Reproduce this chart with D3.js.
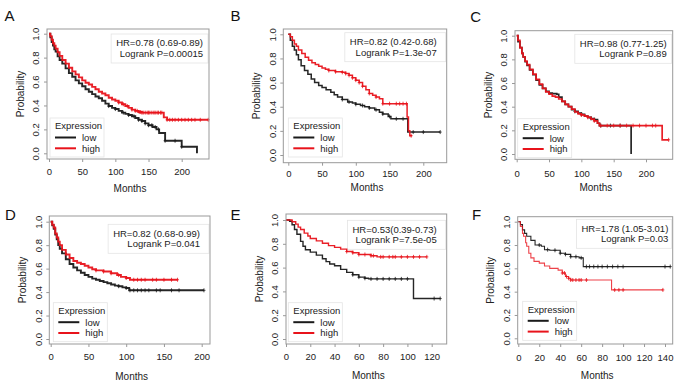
<!DOCTYPE html>
<html lang="en">
<head>
<meta charset="UTF-8" />
<title>KM plots</title>
<style>
  body { margin: 0; background: #fff; }
  text { font-family: "Liberation Sans", Arial, sans-serif; fill: #222; }
</style>
</head>
<body>
<script src="https://d3js.org/d3.v7.min.js"></script>
<svg id="km" width="680" height="387"></svg>
<script>
// survival curves: [months, probability] knots
const aLow = [[0,1],[2,0.97],[4,0.93],[6,0.9],[8,0.87],[10,0.85],[13,0.81],[16,0.78],[20,0.75],[25,0.71],[30,0.67],[35,0.64],[40,0.61],[45,0.585],[50,0.56],[55,0.535],[60,0.515],[65,0.495],[70,0.475],[75,0.46],[80,0.44],[85,0.415],[90,0.395],[95,0.38],[100,0.37],[105,0.355],[110,0.34],[115,0.33],[120,0.32],[125,0.31],[130,0.295],[135,0.28],[140,0.27],[145,0.25],[150,0.235],[156,0.22],[162,0.2],[166,0.17],[175,0.105],[200,0.055],[223,0]];
const aHigh = [[0,1],[2,0.98],[4,0.95],[6,0.92],[8,0.9],[10,0.875],[13,0.845],[16,0.815],[20,0.78],[25,0.75],[30,0.715],[35,0.685],[40,0.66],[45,0.635],[50,0.61],[55,0.59],[60,0.575],[65,0.555],[70,0.535],[75,0.515],[80,0.5],[85,0.485],[90,0.465],[95,0.45],[100,0.44],[105,0.425],[110,0.41],[115,0.395],[120,0.38],[125,0.365],[130,0.355],[135,0.345],[140,0.34],[173,0.3],[178,0.28],[240,0.28]];
const aLowCens = [90,100,112,120,128,135,140,145,150,155,160,165,175,190,200];
const aHighCens = [105,112,118,125,130,133,136,138,140,142,145,148,150,152,155,158,160,163,165,168,170,178,182,186,190,195,200,205,210,215,220,228,240];

const bLow = [[0,1],[3,0.95],[6,0.9],[9,0.87],[12,0.83],[15,0.79],[19,0.74],[24,0.7],[29,0.67],[34,0.63],[39,0.6],[45,0.575],[50,0.56],[56,0.54],[63,0.52],[68,0.5],[73,0.48],[80,0.46],[88,0.44],[95,0.43],[100,0.42],[107,0.41],[113,0.4],[120,0.39],[128,0.375],[135,0.355],[140,0.34],[148,0.32],[152,0.3],[177,0.19],[225,0.19]];
const bHigh = [[0,1],[3,0.98],[6,0.95],[9,0.92],[12,0.9],[15,0.87],[20,0.84],[25,0.81],[30,0.785],[35,0.765],[40,0.75],[45,0.735],[50,0.72],[55,0.71],[60,0.7],[70,0.69],[80,0.685],[85,0.675],[90,0.66],[95,0.64],[100,0.62],[105,0.6],[110,0.57],[115,0.54],[120,0.51],[125,0.495],[130,0.48],[135,0.465],[140,0.425],[176,0.315],[178,0.2],[180,0.16],[183,0.16]];
const bLowCens = [80,90,100,110,120,130,140,150,160,170,185,200,225];
const bHighCens = [60,70,80,85,90,95,100,105,110,120,130,140,150,160,165,170,175,182];

const cLow = [[0,1],[2,0.95],[5,0.9],[8,0.85],[10,0.82],[13,0.78],[16,0.75],[20,0.71],[25,0.67],[30,0.625],[35,0.585],[40,0.555],[45,0.53],[50,0.515],[55,0.51],[62,0.505],[65,0.48],[70,0.445],[75,0.42],[80,0.4],[85,0.375],[90,0.36],[95,0.345],[100,0.335],[105,0.32],[110,0.31],[115,0.3],[120,0.29],[125,0.26],[128,0.24],[177,0]];
const cHigh = [[0,1],[2,0.96],[5,0.9],[8,0.85],[10,0.82],[13,0.785],[16,0.755],[20,0.715],[25,0.675],[30,0.63],[35,0.59],[40,0.555],[45,0.525],[50,0.505],[55,0.49],[60,0.48],[65,0.465],[70,0.445],[75,0.42],[80,0.4],[85,0.38],[90,0.355],[95,0.34],[100,0.33],[105,0.32],[110,0.31],[115,0.295],[120,0.28],[125,0.26],[128,0.24],[225,0.12],[235,0.12]];
const cLowCens = [90,100,115,120,130,145,160];
const cHighCens = [100,110,120,130,140,150,160,170,180,190,200,210,215,235];

const dLow = [[0,1],[2,0.97],[4,0.94],[6,0.89],[8,0.85],[10,0.8],[12,0.77],[15,0.73],[20,0.68],[25,0.64],[30,0.61],[35,0.585],[40,0.565],[45,0.545],[50,0.53],[55,0.515],[60,0.505],[65,0.495],[70,0.485],[75,0.475],[80,0.465],[85,0.455],[90,0.45],[95,0.44],[100,0.435],[104,0.415],[203,0.415]];
const dHigh = [[0,1],[2,0.975],[4,0.95],[6,0.9],[8,0.865],[10,0.83],[12,0.8],[15,0.76],[20,0.72],[25,0.69],[30,0.665],[35,0.65],[40,0.64],[45,0.625],[50,0.61],[55,0.595],[60,0.585],[70,0.575],[80,0.56],[88,0.545],[93,0.53],[100,0.52],[105,0.505],[168,0.505]];
const dLowCens = [90,100,105,110,115,120,125,130,140,145,160,170,203];
const dHighCens = [60,70,80,90,100,110,115,120,125,135,140,150,160,168];

const eLow = [[0,1],[3,0.99],[5,0.96],[7,0.92],[9,0.88],[12,0.82],[14,0.78],[16,0.75],[20,0.73],[25,0.705],[30,0.675],[33,0.65],[36,0.63],[40,0.615],[45,0.585],[50,0.56],[55,0.54],[60,0.52],[65,0.51],[68,0.505],[105,0.34],[127,0.34]];
const eHigh = [[0,1],[5,0.985],[8,0.965],[10,0.94],[12,0.92],[15,0.89],[18,0.865],[20,0.845],[25,0.825],[30,0.805],[35,0.785],[40,0.77],[45,0.755],[50,0.735],[55,0.725],[60,0.71],[70,0.7],[75,0.69],[116,0.69]];
const eLowCens = [55,60,65,70,75,80,85,90,95,100,122,127];
const eHighCens = [50,55,60,65,70,72,78,80,85,88,90,95,100,105,110,116];

const fLow = [[0,1],[2,0.975],[4,0.93],[6,0.9],[8,0.875],[12,0.84],[16,0.8],[22,0.79],[25,0.76],[30,0.755],[40,0.73],[45,0.72],[50,0.7],[58,0.69],[62,0.615],[145,0.615]];
const fHigh = [[0,1],[2,0.96],[4,0.9],[5,0.875],[7,0.82],[8,0.79],[10,0.73],[12,0.69],[15,0.66],[20,0.645],[25,0.62],[30,0.6],[38,0.585],[42,0.56],[45,0.53],[48,0.515],[50,0.5],[89,0.415],[138,0.415]];
const fLowCens = [20,28,35,40,45,50,55,60,65,68,72,76,80,85,90,95,100,140,145];
const fHighCens = [42,44,46,48,50,52,55,58,60,65,92,96,100,138];

const yTicks = [0, 0.2, 0.4, 0.6, 0.8, 1.0];
const hrTexts = ['HR=0.78 (0.69-0.89)', 'HR=0.82 (0.42-0.68)', 'HR=0.98 (0.77-1.25)', 'HR=0.82 (0.68-0.99)', 'HR=0.53(0.39-0.73)', 'HR=1.78 (1.05-3.01)'];
const pTexts = ['Logrank P=0.00015', 'Logrank P=1.3e-07', 'Logrank P=0.89', 'Logrank P=0.041', 'Logrank P=7.5e-05', 'Logrank P=0.03'];

// layout of each panel (pixels)
const panels = [
  { id: 'A', low: aLow, high: aHigh, lowC: aLowCens, highC: aHighCens, xTicks: [0,50,100,150,200],
    box: [47,29,209,159], xr: [49,181.7], yr: [153.3,33.7], letter: [9.5,16], xLab: 13, monthsY: 188,
    hr: [203,43], leg: [55,126], lw: 1.9 },
  { id: 'B', low: bLow, high: bHigh, lowC: bLowCens, highC: bHighCens, xTicks: [0,50,100,150,200],
    box: [283.3,29,446.7,162.7], xr: [288.3,423.3], yr: [155,34.3], letter: [235.5,16], xLab: 10.7, monthsY: 187,
    hr: [436.7,41.7], leg: [293.3,126], lw: 1.5 },
  { id: 'C', low: cLow, high: cHigh, lowC: cLowCens, highC: cHighCens, xTicks: [0,50,100,150,200],
    box: [515,30.7,672.7,159.3], xr: [516.7,646], yr: [154,35.7], letter: [475.7,16.7], xLab: 14.7, monthsY: 187,
    hr: [666.7,43.3], leg: [522.7,126.7], lw: 1.7 },
  { id: 'D', low: dLow, high: dHigh, lowC: dLowCens, highC: dHighCens, xTicks: [0,50,100,150,200],
    box: [49.3,216,210,344], xr: [50.7,201.7], yr: [339,221.7], letter: [10.5,215], xLab: 12.7, monthsY: 376.7,
    hr: [200,233.3], leg: [58.3,310.7], lw: 1.9 },
  { id: 'E', low: eLow, high: eHigh, lowC: eLowCens, highC: eHighCens, xTicks: [0,20,40,60,80,100,120],
    box: [286,214,446.7,344], xr: [286,431.7], yr: [339,220], letter: [235.5,215], xLab: 12.7, monthsY: 375,
    hr: [436.7,229.3], leg: [293.3,310.7], lw: 1.4 },
  { id: 'F', low: fLow, high: fHigh, lowC: fLowCens, highC: fHighCens, xTicks: [0,20,40,60,80,100,120,140],
    box: [517.7,216.7,672.7,344], xr: [518.3,665], yr: [338.3,221.7], letter: [476.7,215], xLab: 14, monthsY: 375,
    hr: [668.3,228.3], leg: [527.7,309.3], lw: 1.1 }
];

const lowColor = '#1a1a1a';
const highColor = '#e8131b';
const svg = d3.select('#km');
const bis = d3.bisector(d => d[0]).right;

panels.forEach((p, i) => {
  const g = svg.append('g');
  const x = d3.scaleLinear().domain([0, p.xTicks[p.xTicks.length - 1]]).range(p.xr);
  const y = d3.scaleLinear().domain([0, 1]).range(p.yr);
  const [bx0, by0, bx1, by1] = p.box;

  g.append('text')
    .attr('x', p.letter[0]).attr('y', p.letter[1]).attr('dy', '0.36em')
    .attr('text-anchor', 'middle').style('font-size', '15px').style('fill', '#111')
    .text(p.id);

  // x axis
  const xa = g.append('g').attr('transform', `translate(0,${by1})`)
    .call(d3.axisBottom(x).tickValues(p.xTicks).tickSize(3).tickSizeOuter(0).tickPadding(p.xLab - 6.4));
  xa.select('.domain').remove();
  xa.selectAll('line').attr('stroke', '#999');
  xa.selectAll('text').style('font-size', '9.5px').style('font-family', '"Liberation Sans", Arial, sans-serif').attr('fill', '#333');

  // y axis, labels turned like in R
  const ya = g.append('g').attr('transform', `translate(${bx0},0)`)
    .call(d3.axisLeft(y).tickValues(yTicks).tickFormat(d3.format('.1f')).tickSize(3).tickSizeOuter(0));
  ya.select('.domain').remove();
  ya.selectAll('line').attr('stroke', '#999');
  ya.selectAll('text')
    .attr('x', null).attr('y', 0).attr('dy', '0.35em')
    .attr('text-anchor', 'middle').attr('transform', 'translate(-11,0) rotate(-90)')
    .style('font-size', '9.5px').style('font-family', '"Liberation Sans", Arial, sans-serif').attr('fill', '#333');

  g.append('text')
    .attr('transform', `translate(${bx0 - 27},${(by0 + by1) / 2}) rotate(-90)`)
    .attr('dy', '0.35em').attr('text-anchor', 'middle').style('font-size', '10px')
    .text('Probability');
  g.append('text')
    .attr('x', (bx0 + bx1) / 2 + 2).attr('y', p.monthsY).attr('dy', '0.35em')
    .attr('text-anchor', 'middle').style('font-size', '10px')
    .text('Months');

  // curves
  const line = d3.line().x(d => x(d[0])).y(d => y(d[1])).curve(d3.curveStepAfter);
  const series = [
    { data: p.low, cens: p.lowC, color: lowColor },
    { data: p.high, cens: p.highC, color: highColor }
  ];
  series.forEach(s => {
    g.append('path').datum(s.data)
      .attr('d', line).attr('fill', 'none')
      .attr('stroke', s.color).attr('stroke-width', p.lw)
      .attr('stroke-opacity', p.id === 'F' && s.color === highColor ? 0.8 : 0.95);
    g.selectAll(null).data(s.cens).enter().append('path')
      .attr('d', t => {
        const k = Math.max(0, bis(s.data, t) - 1);
        const cx = x(t), cy = y(s.data[k][1]);
        return `M${cx},${cy - 2}V${cy + 2}M${cx - 1.5},${cy}H${cx + 1.5}`;
      })
      .attr('stroke', s.color).attr('stroke-width', 0.8).attr('fill', 'none');
  });

  // HR / logrank box
  const hrG = g.append('g');
  const bg = hrG.append('rect');
  const t1 = hrG.append('text').attr('x', p.hr[0]).attr('y', p.hr[1]).attr('dy', '0.35em')
    .attr('text-anchor', 'end').style('font-size', '9.5px').text(hrTexts[i]);
  hrG.append('text').attr('x', p.hr[0]).attr('y', p.hr[1] + 10.5).attr('dy', '0.35em')
    .attr('text-anchor', 'end').style('font-size', '9.5px').text(pTexts[i]);
  const w = t1.node().getComputedTextLength();
  bg.attr('x', p.hr[0] - w - 5).attr('y', p.hr[1] - 9)
    .attr('width', bx1 - 1 - (p.hr[0] - w - 5)).attr('height', 29)
    .attr('fill', '#fff').attr('stroke', '#e4e4e4').attr('stroke-width', 0.8);
  hrG.lower();
  g.select('path').raise;

  // legend
  const [lx, ly] = p.leg;
  const lg = g.append('g');
  lg.append('rect').attr('x', lx - 5).attr('y', ly - 8).attr('width', 54).attr('height', 39)
    .attr('fill', '#fff').attr('stroke', '#e4e4e4').attr('stroke-width', 0.8);
  lg.append('text').attr('x', lx).attr('y', ly).attr('dy', '0.35em').style('font-size', '9.5px').text('Expression');
  [['low', lowColor], ['high', highColor]].forEach(([name, col], j) => {
    const yy = ly + 11.5 + j * 10.8;
    lg.append('line').attr('x1', lx).attr('x2', lx + 21).attr('y1', yy).attr('y2', yy)
      .attr('stroke', col).attr('stroke-width', 2);
    lg.append('text').attr('x', lx + 27).attr('y', yy).attr('dy', '0.35em').style('font-size', '9.5px').text(name);
  });

  // frame on top
  g.append('rect').attr('x', bx0).attr('y', by0).attr('width', bx1 - bx0).attr('height', by1 - by0)
    .attr('fill', 'none').attr('stroke', '#999').attr('stroke-width', 1);
});
</script>
</body>
</html>
